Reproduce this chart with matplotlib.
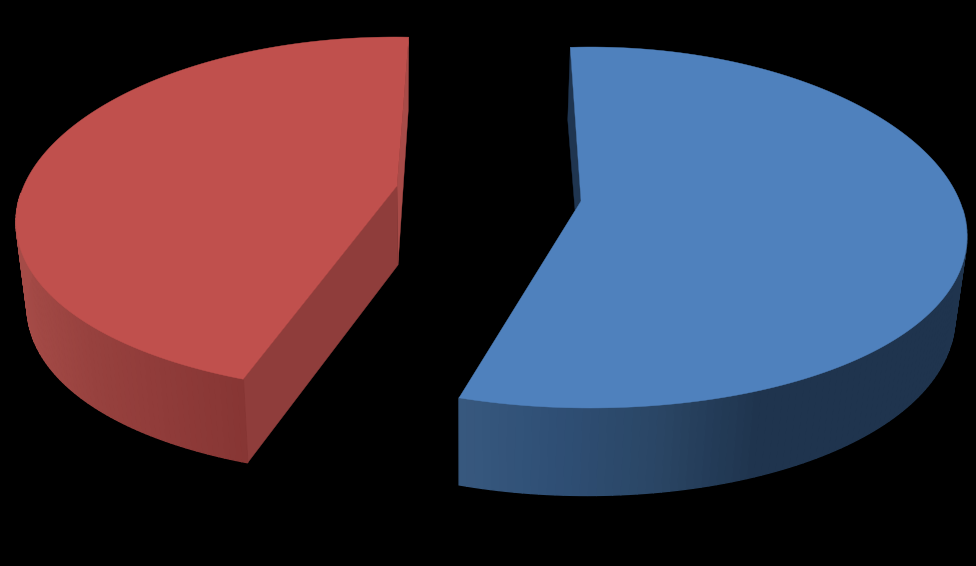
import numpy as np
import matplotlib
matplotlib.use("Agg")
import matplotlib.pyplot as plt
from matplotlib.colors import LinearSegmentedColormap

categories = ["Series A", "Series B"]
values = [56.2, 43.8]

# Projection of each slice: upper rim and lower rim (cx, cy, a, b, sag), centre points
geometry = {
    "Series A": dict(start=93, top=(590, 227.5, 377, 180.5, 9), low=(587, 307.5, 368, 188, 9),
                     apex=(581, 201), apex_low=(575, 210), top_col="#4f81bd", cut="#1f3550",
                     back="#1f3550", cmap=["#38597f", "#2f4f75", "#2a4665", "#1f344e", "#1f344e", "#1f344e"],
                     xspan=(458, 955)),
    "Series B": dict(start=246.4, top=(395, 215, 379, 178, 7), low=(395, 293, 368, 183, 13),
                     apex=(397, 186), apex_low=(398, 265), top_col="#c0504d", cut="#8f3d3b",
                     back="#a84b48", cmap=["#a54b47", "#97413e", "#8f3b39", "#873634"],
                     xspan=(27, 248)),
}
FORESHORTENING = 1.005


def rim(e, t):
    cx, cy, a, b, sag = e
    r = np.radians(t)
    return cx + a * np.cos(r), cy - b * np.sin(r) + sag * np.cos(r) ** 2


fig = plt.figure(figsize=(9.76, 5.66), dpi=100, facecolor="black")
ax = fig.add_axes([0, 0, 1, 1])
ax.set_xlim(0, 976)
ax.set_ylim(566, 0)
ax.axis("off")

total = sum(values)
for name, v in zip(categories, values):
    g = geometry[name]
    sweep = 360 * v / total * FORESHORTENING
    t = np.linspace(g["start"], g["start"] - sweep, 160)
    ux, uy = rim(g["top"], t)
    lx, ly = rim(g["low"], t)
    cmap = LinearSegmentedColormap.from_list(name, g["cmap"])

    # flat wall behind the start of blue / end of red
    end = 0 if name == "Series A" else -1
    ax.fill([ux[end], lx[end], g["apex_low"][0], g["apex"][0]],
            [uy[end], ly[end], g["apex_low"][1], g["apex"][1]],
            color=g["back"], lw=0.3, zorder=1)
    # flat wall at the front cut
    if name == "Series B":
        ax.fill([g["apex"][0], ux[0], lx[0], g["apex_low"][0]],
                [g["apex"][1], uy[0], ly[0], g["apex_low"][1]],
                color=g["cut"], lw=0.3, zorder=2)
    # curved outer wall, shaded in vertical strips
    for i in range(len(t) - 1):
        if np.sin(np.radians(t[i])) > 0.15:
            continue
        f = np.clip((lx[i] - g["xspan"][0]) / (g["xspan"][1] - g["xspan"][0]), 0, 1)
        ax.fill([ux[i], ux[i + 1], lx[i + 1], lx[i]],
                [uy[i], uy[i + 1], ly[i + 1], ly[i]],
                color=cmap(f), lw=1.0, zorder=3)
    # top face
    ax.fill(np.r_[g["apex"][0], ux], np.r_[g["apex"][1], uy], color=g["top_col"], lw=0.3, zorder=4)

fig.savefig("out.png", dpi=100, facecolor="black")
